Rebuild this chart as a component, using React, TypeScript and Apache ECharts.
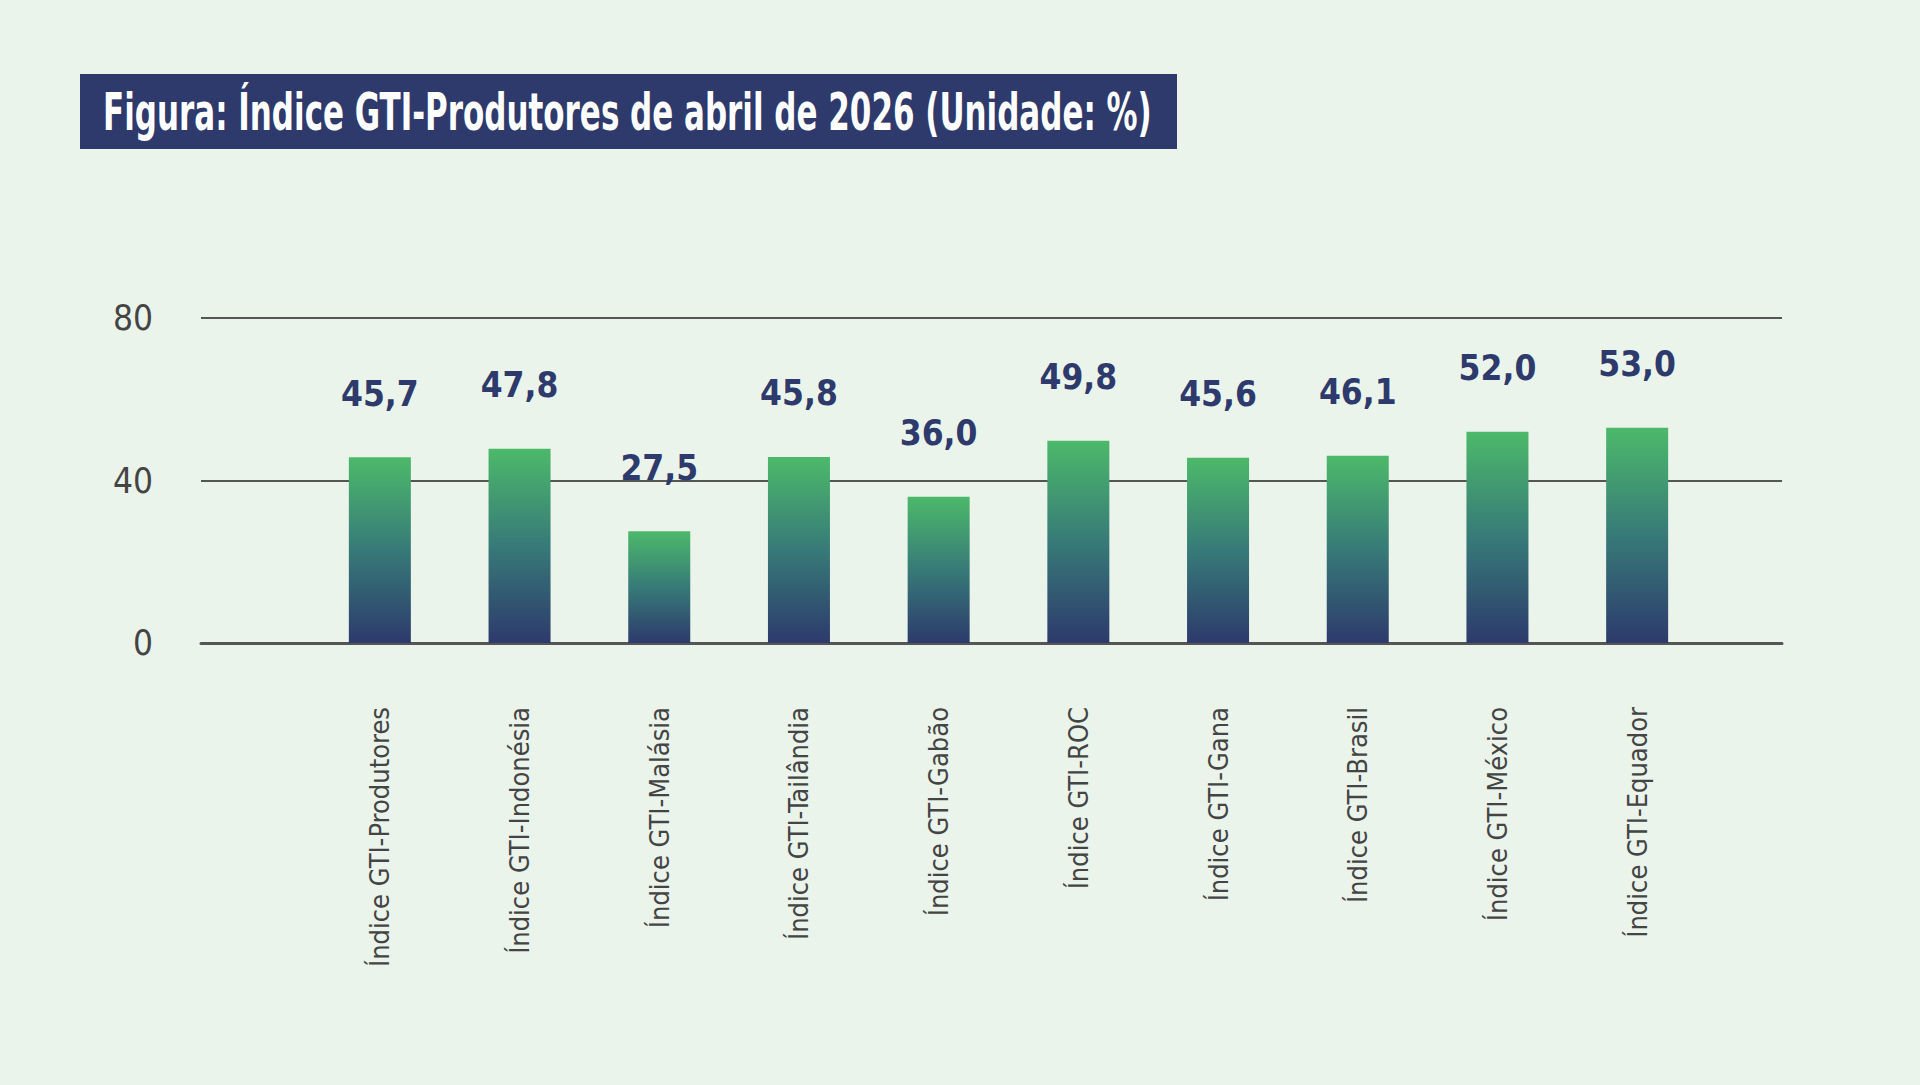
import React, { useEffect, useRef } from "react";
import * as echarts from "echarts";

const categories = [
  "Índice GTI-Produtores",
  "Índice GTI-Indonésia",
  "Índice GTI-Malásia",
  "Índice GTI-Tailândia",
  "Índice GTI-Gabão",
  "Índice GTI-ROC",
  "Índice GTI-Gana",
  "Índice GTI-Brasil",
  "Índice GTI-México",
  "Índice GTI-Equador",
];
const values = [45.7, 47.8, 27.5, 45.8, 36.0, 49.8, 45.6, 46.1, 52.0, 53.0];
const yMin = 0;
const yMax = 80;
const yInterval = 40;
const titleText = "Figura: Índice GTI-Produtores de abril de 2026 (Unidade: %)";

const FONT = "'Liberation Sans Narrow', 'DejaVu Sans Condensed', 'Noto Sans', sans-serif";
const BG = "#eaf4eb";
const NAVY = "#2d3a6b";

function measure(text: string, font: string): number {
  const ctx = document.createElement("canvas").getContext("2d");
  if (!ctx) return 0;
  ctx.font = font;
  return ctx.measureText(text).width;
}

export default function App() {
  const ref = useRef<HTMLDivElement>(null);
  useEffect(() => {
    document.body.style.margin = "0";
    document.body.style.background = BG;
    if (!ref.current) return;
    const chart = echarts.init(ref.current, undefined, { renderer: "svg" });
    const titleSize = 51;
    const tw = measure(titleText, `bold ${titleSize}px ${FONT}`);
    const scaleX = tw > 0 ? Math.min(1, 1049 / tw) : 1;

    chart.setOption({
      animation: false,
      backgroundColor: BG,
      graphic: [
        {
          type: "rect",
          shape: { x: 80, y: 74, width: 1097, height: 75 },
          style: { fill: NAVY },
        },
        {
          type: "text",
          x: 103,
          y: 112,
          scaleX,
          style: {
            text: titleText,
            fill: "#ffffff",
            fontSize: titleSize,
            fontWeight: "bold",
            fontFamily: FONT,
            align: "left",
            verticalAlign: "middle",
          },
        },
      ],
      grid: [
        { left: 201, right: 138, top: 318, bottom: 442 },
        { left: 310, right: 213, top: 318, bottom: 442 },
      ],
      xAxis: [
        {
          gridIndex: 0,
          type: "value",
          min: 0,
          max: 1,
          axisLine: { show: true, lineStyle: { color: "#555555", width: 3 } },
          axisTick: { show: false },
          axisLabel: { show: false },
          splitLine: { show: false },
        },
        {
          gridIndex: 1,
          type: "category",
          data: categories,
          axisLine: { show: false },
          axisTick: { show: false },
          axisLabel: {
            rotate: 90,
            margin: 64,
            fontSize: 27,
            color: "#444444",
            fontFamily: FONT,
            interval: 0,
          },
        },
      ],
      yAxis: [
        {
          gridIndex: 0,
          type: "value",
          min: yMin,
          max: yMax,
          interval: yInterval,
          axisLine: { show: false },
          axisTick: { show: false },
          axisLabel: { margin: 48, fontSize: 35, color: "#444444", fontFamily: FONT },
          splitLine: { show: true, lineStyle: { color: "#555555", width: 2 } },
        },
        {
          gridIndex: 1,
          type: "value",
          min: yMin,
          max: yMax,
          interval: yInterval,
          show: false,
          splitLine: { show: false },
        },
      ],
      series: [
        {
          type: "bar",
          xAxisIndex: 1,
          yAxisIndex: 1,
          data: values,
          barWidth: 62,
          itemStyle: {
            color: new echarts.graphic.LinearGradient(0, 0, 0, 1, [
              { offset: 0, color: "#4cb96a" },
              { offset: 0.5, color: "#377a78" },
              { offset: 1, color: "#2d3a6c" },
            ]),
          },
          label: {
            show: true,
            position: "top",
            distance: 46,
            fontSize: 35,
            fontWeight: "bold",
            color: NAVY,
            fontFamily: FONT,
            formatter: (p: any) => Number(p.value).toFixed(1).replace(".", ","),
          },
        },
      ],
    });
    return () => chart.dispose();
  }, []);
  return <div ref={ref} style={{ width: 1920, height: 1085, background: BG }} />;
}
